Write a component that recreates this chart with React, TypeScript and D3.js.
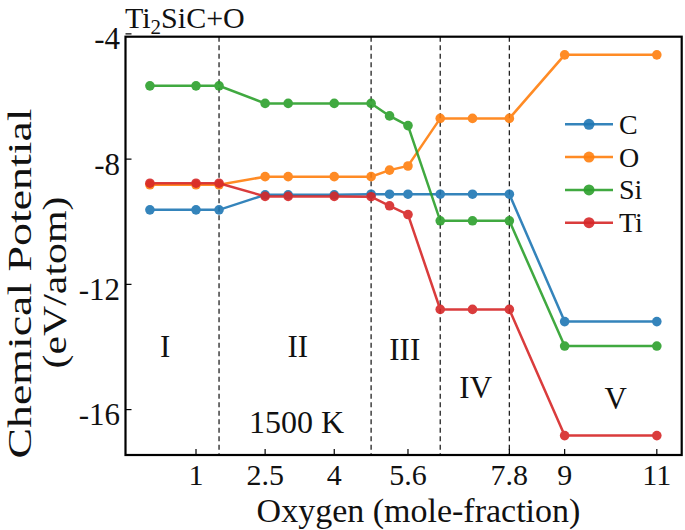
import React from "react";
import * as d3 from "d3";

const xValues = [0, 1, 1.5, 2.5, 3, 4, 4.8, 5.2, 5.6, 6.3, 7, 7.8, 9, 11];
const seriesNames = ["C", "O", "Si", "Ti"];
const cValues = [-9.62, -9.62, -9.62, -9.14, -9.14, -9.14, -9.12, -9.12, -9.12, -9.12, -9.12, -9.12, -13.19, -13.19];
const oValues = [-8.82, -8.82, -8.82, -8.56, -8.56, -8.56, -8.56, -8.35, -8.22, -6.7, -6.7, -6.7, -4.67, -4.67];
const siValues = [-5.66, -5.66, -5.66, -6.22, -6.22, -6.22, -6.22, -6.62, -6.93, -9.97, -9.97, -9.97, -13.97, -13.97];
const tiValues = [-8.77, -8.77, -8.77, -9.19, -9.19, -9.19, -9.2, -9.49, -9.77, -12.8, -12.8, -12.8, -16.83, -16.83];
const colors = ["#1f77b4", "#ff7f0e", "#2ca02c", "#d62728"];

const xTicks = [1, 2.5, 4, 5.6, 7.8, 9, 11];
const yTicks = [-4, -8, -12, -16];
const boundaries = [1.5, 4.8, 6.3, 7.8];
const regionLabels = ["I", "II", "III", "IV", "V"];
const regionX = [0.33, 3.21, 5.53, 7.07, 10.11];
const regionY = [-14.0, -14.0, -14.07, -15.28, -15.63];

const W = 685;
const H = 530;
const left = 125.5;
const right = 681.7;
const top = 36.7;
const bottom = 455;

export default function App() {
  const x = d3.scaleLinear().domain([-0.53, 11.54]).range([left, right]);
  const y = d3.scaleLinear().domain([-17.45, -4.09]).range([bottom, top]);
  const allSeries = [cValues, oValues, siValues, tiValues];
  const line = d3
    .line<[number, number]>()
    .x((d) => x(d[0]))
    .y((d) => y(d[1]));
  const font = "'Liberation Serif', 'Times New Roman', serif";

  return (
    <svg
      width={W}
      height={H}
      style={{ position: "absolute", left: 0, top: 0, background: "#fff" }}
      fontFamily={font}
    >
      <rect x={0} y={0} width={W} height={H} fill="#fff" />
      {boundaries.map((b, i) => (
        <line
          key={"b" + i}
          x1={x(b)}
          x2={x(b)}
          y1={top}
          y2={bottom}
          stroke="#222"
          strokeWidth={1.3}
          strokeDasharray="5,3.5"
        />
      ))}
      {allSeries.map((vals, si) => {
        const pts: [number, number][] = xValues.map((xv, i) => [xv, vals[i]]);
        return (
          <g key={"s" + si} opacity={0.9}>
            <path d={line(pts) || ""} fill="none" stroke={colors[si]} strokeWidth={2.5} />
            {pts.map((p, i) => (
              <circle key={i} cx={x(p[0])} cy={y(p[1])} r={4.8} fill={colors[si]} />
            ))}
          </g>
        );
      })}
      <rect
        x={left}
        y={top}
        width={right - left}
        height={bottom - top}
        fill="none"
        stroke="#000"
        strokeWidth={2.2}
      />
      {xTicks.map((t) => (
        <g key={"xt" + t}>
          <line x1={x(t)} x2={x(t)} y1={bottom} y2={bottom - 6} stroke="#000" strokeWidth={1.2} />
          <text x={x(t)} y={485} textAnchor="middle" fontSize={30} fill="#111">
            {String(t)}
          </text>
        </g>
      ))}
      {yTicks.map((t) => (
        <g key={"yt" + t}>
          <line x1={left} x2={left + 6} y1={y(t)} y2={y(t)} stroke="#000" strokeWidth={1.2} />
          <text
            x={120}
            y={y(t) + 5}
            textAnchor="end"
            dominantBaseline="central"
            fontSize={31}
            fill="#111"
          >
            {String(t)}
          </text>
        </g>
      ))}
      {regionLabels.map((r, i) => (
        <text
          key={"r" + i}
          x={x(regionX[i])}
          y={y(regionY[i])}
          textAnchor="middle"
          dominantBaseline="central"
          fontSize={31}
          fill="#111"
        >
          {r}
        </text>
      ))}
      <text
        x={x(3.18)}
        y={y(-16.39)}
        textAnchor="middle"
        dominantBaseline="central"
        fontSize={32}
        fill="#111"
      >
        1500 K
      </text>
      <text x={125} y={28} fontSize={30} fill="#111">
        Ti
        <tspan fontSize={21} dy={6}>
          2
        </tspan>
        <tspan dy={-6}>SiC+O</tspan>
      </text>
      <text x={418.5} y={522} textAnchor="middle" fontSize={34} fill="#111">
        Oxygen (mole-fraction)
      </text>
      <g transform="translate(31,283.5) rotate(-90)">
        <text
          x={0}
          y={0}
          textAnchor="middle"
          fontSize={34}
          fill="#111"
          textLength={350}
          lengthAdjust="spacingAndGlyphs"
        >
          Chemical Potential
        </text>
      </g>
      <g transform="translate(66,282.5) rotate(-90)">
        <text
          x={0}
          y={0}
          textAnchor="middle"
          fontSize={34}
          fill="#111"
          textLength={172}
          lengthAdjust="spacingAndGlyphs"
        >
          (eV/atom)
        </text>
      </g>
      {seriesNames.map((n, i) => {
        const ly = 124.3 + i * 32.8;
        return (
          <g key={"l" + n}>
            <line x1={565} x2={613} y1={ly} y2={ly} stroke={colors[i]} strokeWidth={2.5} opacity={0.9} />
            <circle cx={589} cy={ly} r={5.5} fill={colors[i]} opacity={0.9} />
            <text x={619} y={ly} dominantBaseline="central" fontSize={28} fill="#111">
              {n}
            </text>
          </g>
        );
      })}
    </svg>
  );
}
